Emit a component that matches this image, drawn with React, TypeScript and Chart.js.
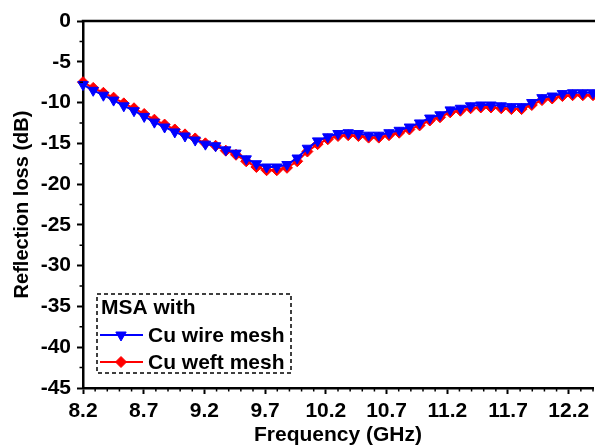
import { useEffect, useRef } from 'react';
import { Chart, registerables } from 'chart.js';
import { drawPoint } from 'chart.js/helpers';

Chart.register(...registerables);

// Frequency sweep (GHz)
const frequencies = [
  8.2, 8.284, 8.368, 8.452, 8.536, 8.62, 8.704, 8.788, 8.872, 8.956,
  9.04, 9.124, 9.208, 9.292, 9.376, 9.46, 9.544, 9.628, 9.712, 9.796,
  9.88, 9.964, 10.048, 10.132, 10.216, 10.3, 10.384, 10.468, 10.552, 10.636,
  10.72, 10.804, 10.888, 10.972, 11.056, 11.14, 11.224, 11.308, 11.392, 11.476,
  11.56, 11.644, 11.728, 11.812, 11.896, 11.98, 12.064, 12.148, 12.232, 12.316,
  12.4,
];

// Reflection loss (dB), MSA with Cu wire mesh
const wireMesh = [
  -7.8, -8.5, -9.1, -9.7, -10.4, -11.0, -11.7, -12.4, -13.0, -13.6,
  -14.1, -14.6, -15.1, -15.3, -15.8, -16.2, -16.9, -17.5, -17.9, -17.9,
  -17.6, -16.8, -15.6, -14.7, -14.2, -13.8, -13.7, -13.8, -14.0, -14.0,
  -13.7, -13.4, -13.0, -12.5, -11.9, -11.5, -10.9, -10.7, -10.4, -10.3,
  -10.3, -10.4, -10.5, -10.5, -10.0, -9.4, -9.2, -8.9, -8.8, -8.8,
  -8.8,
];

// Reflection loss (dB), MSA with Cu weft mesh
const weftMesh = [
  -7.5, -8.2, -8.8, -9.4, -10.1, -10.7, -11.4, -12.1, -12.7, -13.3,
  -13.9, -14.4, -15.0, -15.3, -15.9, -16.4, -17.2, -17.9, -18.3, -18.3,
  -18.0, -17.2, -16.0, -15.1, -14.5, -14.1, -14.0, -14.1, -14.3, -14.3,
  -14.0, -13.7, -13.3, -12.8, -12.2, -11.8, -11.2, -11.0, -10.7, -10.6,
  -10.6, -10.7, -10.8, -10.8, -10.3, -9.7, -9.5, -9.2, -9.1, -9.1,
  -9.1,
];

const xTicks = [8.2, 8.7, 9.2, 9.7, 10.2, 10.7, 11.2, 11.7, 12.2];
const yTicks = [0, -5, -10, -15, -20, -25, -30, -35, -40, -45];

const legendTitle = 'MSA with';
const seriesNames = ['Cu wire mesh', 'Cu weft mesh'];

const FONT_FAMILY = "Arial, 'Liberation Sans', Helvetica, sans-serif";
const BOLD = (size: number) => ({ family: FONT_FAMILY, size, weight: 'bold' as const });

// Frame (top line) and minor ticks
const framePlugin = {
  id: 'frame',
  afterDraw(chart: any) {
    const { ctx, chartArea, scales } = chart;
    const x = scales.x;
    const y = scales.y;
    ctx.save();
    ctx.strokeStyle = '#000';
    ctx.lineWidth = 2.5;
    ctx.beginPath();
    ctx.moveTo(chartArea.left - 1.25, chartArea.top);
    ctx.lineTo(chartArea.right + 10, chartArea.top);
    ctx.stroke();

    ctx.lineWidth = 1.5;
    ctx.beginPath();
    for (let k = 0; k <= 42; k++) {
      const v = 8.2 + k * 0.1;
      if (k % 5 === 0) continue;
      const px = x.getPixelForValue(v);
      ctx.moveTo(px, chartArea.bottom);
      ctx.lineTo(px, chartArea.bottom + 3.5);
    }
    for (let k = 0; k < 9; k++) {
      const v = -2.5 - k * 5;
      const py = y.getPixelForValue(v);
      ctx.moveTo(chartArea.left, py);
      ctx.lineTo(chartArea.left - 3.5, py);
    }
    ctx.stroke();
    ctx.restore();
  },
};

// Dashed legend box inside the plot
const legendBoxPlugin = {
  id: 'legendBox',
  afterDatasetsDraw(chart: any) {
    const { ctx } = chart;
    const bx = 97;
    const by = 294;
    const bw = 194;
    const bh = 79;
    ctx.save();
    ctx.fillStyle = '#fff';
    ctx.fillRect(bx, by, bw, bh);
    ctx.setLineDash([4, 3]);
    ctx.lineWidth = 1.5;
    ctx.strokeStyle = '#000';
    ctx.strokeRect(bx, by, bw, bh);
    ctx.setLineDash([]);

    ctx.font = `bold 21px ${FONT_FAMILY}`;
    ctx.fillStyle = '#000';
    ctx.textBaseline = 'middle';
    ctx.textAlign = 'left';
    ctx.fillText(legendTitle, bx + 4, by + 14);

    const rows = [by + 41, by + 68];
    chart.data.datasets.forEach((ds: any, i: number) => {
      const yy = rows[i];
      ctx.strokeStyle = ds.borderColor;
      ctx.lineWidth = ds.borderWidth;
      ctx.beginPath();
      ctx.moveTo(bx + 3, yy);
      ctx.lineTo(bx + 46, yy);
      ctx.stroke();
      ctx.fillStyle = ds.pointBackgroundColor;
      ctx.strokeStyle = ds.pointBorderColor;
      ctx.lineWidth = 1;
      drawPoint(ctx, {
        pointStyle: ds.pointStyle,
        rotation: ds.pointRotation || 0,
        radius: ds.pointRadius,
        borderWidth: 1,
      }, bx + 24, yy);
      ctx.fillStyle = '#000';
      ctx.fillText(seriesNames[i], bx + 51, yy + 1);
    });
    ctx.restore();
  },
};

export default function App() {
  const canvasRef = useRef<HTMLCanvasElement>(null);

  useEffect(() => {
    if (!canvasRef.current) return;
    const chart = new Chart(canvasRef.current, {
      type: 'line',
      data: {
        datasets: [
          {
            label: seriesNames[0],
            data: frequencies.map((f, i) => ({ x: f, y: wireMesh[i] })),
            borderColor: '#0000ff',
            backgroundColor: '#0000ff',
            pointBackgroundColor: '#0000ff',
            pointBorderColor: '#0000ff',
            borderWidth: 2,
            pointStyle: 'triangle',
            pointRotation: 180,
            pointRadius: 6,
            pointBorderWidth: 1,
            clip: false,
          } as any,
          {
            label: seriesNames[1],
            data: frequencies.map((f, i) => ({ x: f, y: weftMesh[i] })),
            borderColor: '#ff0000',
            backgroundColor: '#ff0000',
            pointBackgroundColor: '#ff0000',
            pointBorderColor: '#ff0000',
            borderWidth: 2,
            pointStyle: 'rectRot',
            pointRadius: 5.5,
            pointBorderWidth: 1,
            clip: false,
          } as any,
        ],
      },
      options: {
        responsive: false,
        animation: false,
        devicePixelRatio: 1,
        layout: { padding: { top: 21, left: 0, right: 2.5, bottom: 0 } },
        plugins: {
          legend: { display: false },
          tooltip: { enabled: false },
        },
        scales: {
          x: {
            type: 'linear',
            min: 8.2,
            max: 12.4,
            afterBuildTicks: (s: any) => {
              s.ticks = xTicks.map((v) => ({ value: v }));
            },
            afterFit: (s: any) => {
              s.height = 60;
            },
            ticks: {
              autoSkip: false,
              maxRotation: 0,
              color: '#000',
              font: BOLD(21),
              padding: 5,
              callback: (v: any) => Number(v).toFixed(1),
            },
            grid: {
              drawOnChartArea: false,
              drawTicks: true,
              tickLength: 6,
              tickWidth: 2,
              tickColor: '#000',
              color: '#000',
            },
            border: { display: true, color: '#000', width: 2.5 },
            title: {
              display: true,
              text: 'Frequency (GHz)',
              color: '#000',
              font: BOLD(21),
              padding: { top: 0, bottom: 0 },
            },
          },
          y: {
            type: 'linear',
            min: -45,
            max: 0,
            afterBuildTicks: (s: any) => {
              s.ticks = yTicks.map((v) => ({ value: v }));
            },
            afterFit: (s: any) => {
              s.width = 83;
            },
            ticks: {
              autoSkip: false,
              color: '#000',
              font: BOLD(21),
              padding: 6,
              callback: (v: any) => String(v),
            },
            grid: {
              drawOnChartArea: false,
              drawTicks: true,
              tickLength: 6,
              tickWidth: 2,
              tickColor: '#000',
              color: '#000',
            },
            border: { display: true, color: '#000', width: 2.5 },
            title: {
              display: true,
              text: 'Reflection loss (dB)',
              color: '#000',
              font: BOLD(20),
              padding: { top: 10, bottom: 0 },
            },
          },
        },
      },
      plugins: [framePlugin, legendBoxPlugin],
    });
    return () => chart.destroy();
  }, []);

  return (
    <div style={{ position: 'fixed', left: 0, top: 0, width: 595, height: 448, overflow: 'hidden', background: '#fff' }}>
      <canvas ref={canvasRef} width={600} height={448} style={{ display: 'block' }} />
    </div>
  );
}
